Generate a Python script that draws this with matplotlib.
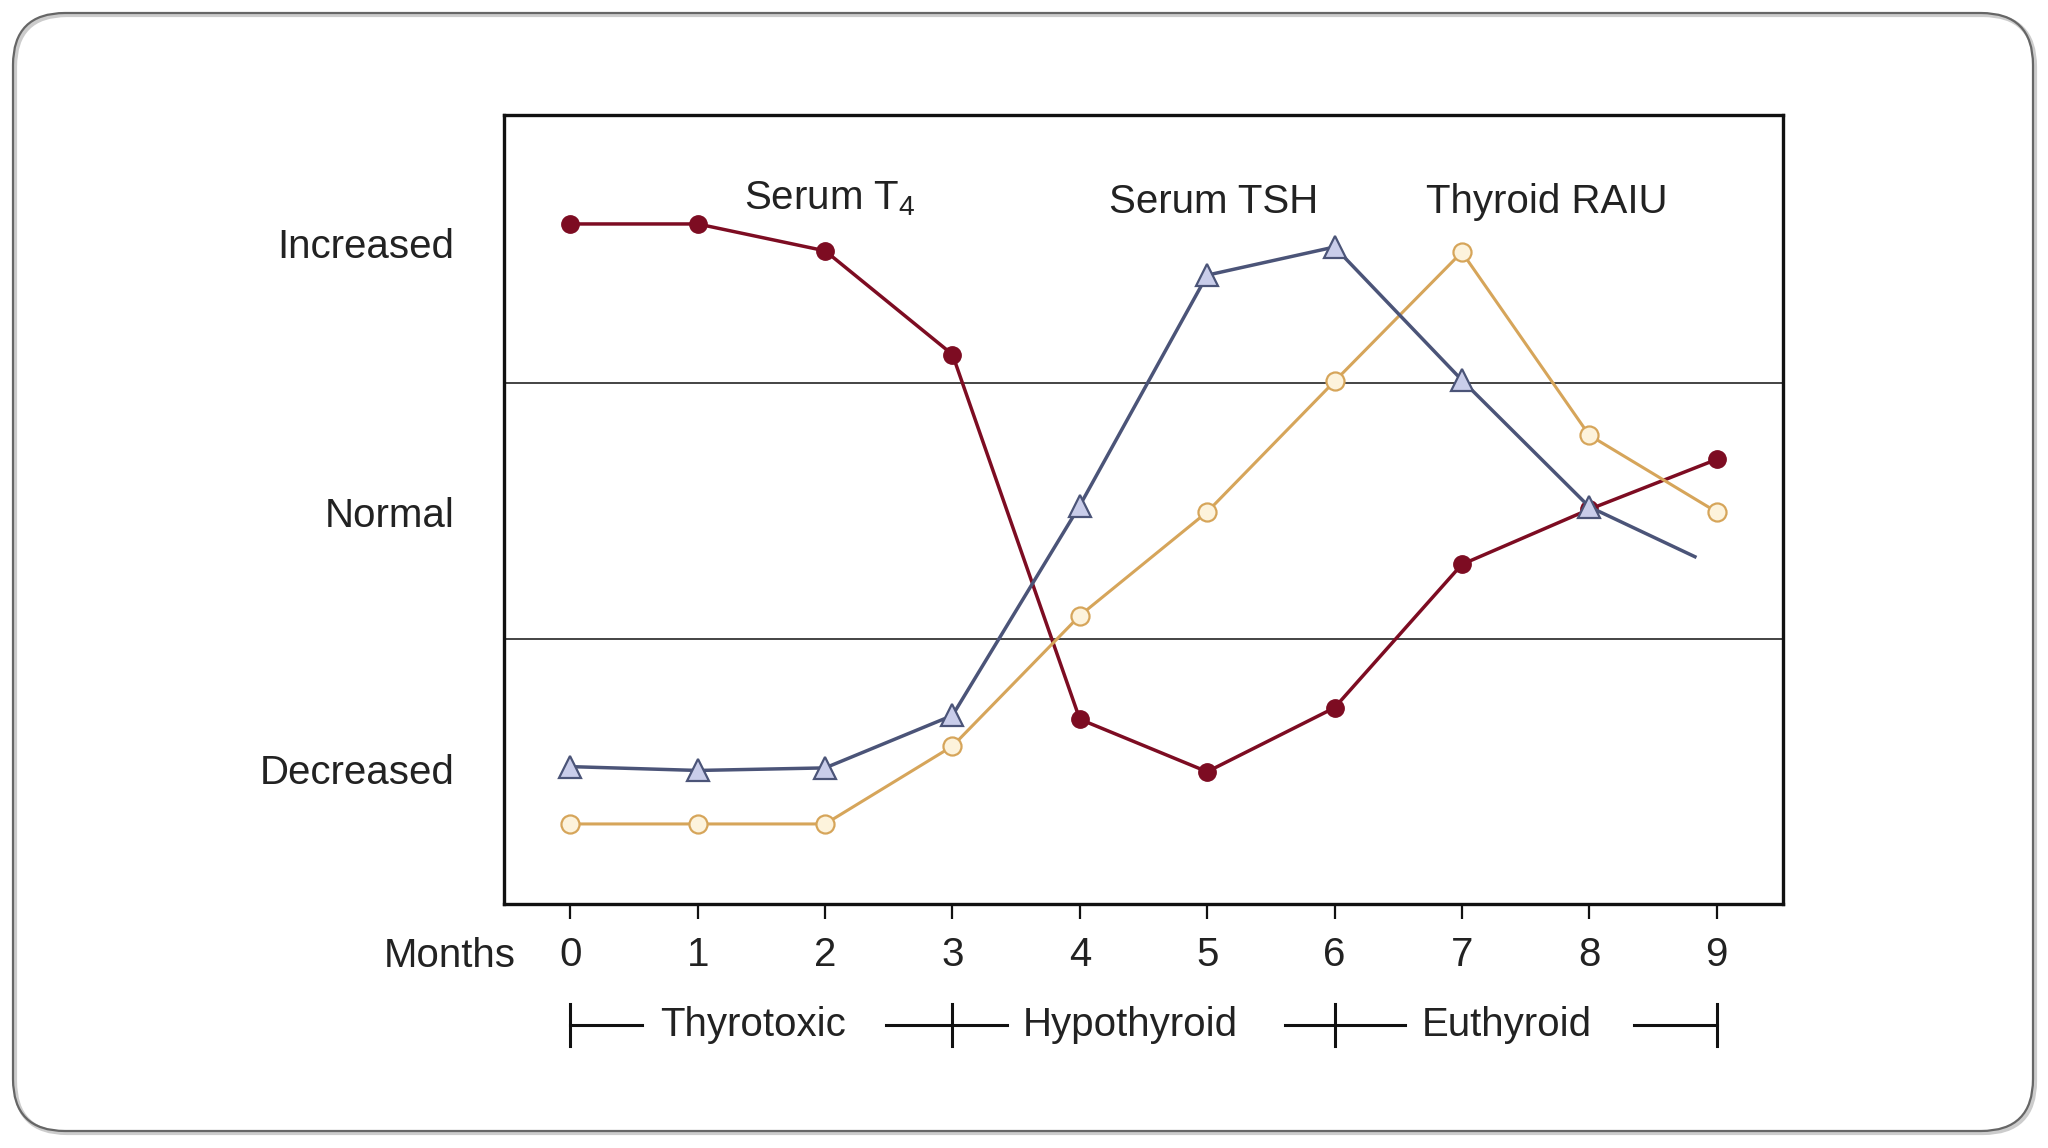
import matplotlib
matplotlib.use("Agg")
from matplotlib import pyplot as plt
from matplotlib.patches import FancyBboxPatch
import matplotlib.transforms as mtransforms

plt.rcParams['font.family'] = ['Liberation Sans', 'DejaVu Sans']
plt.rcParams['mathtext.fontset'] = 'custom'
plt.rcParams['mathtext.rm'] = 'Liberation Sans'

# values (1 = lower normal limit, 2 = upper normal limit)
months = [0, 1, 2, 3, 4, 5, 6, 7, 8, 9]
t4 = [2.62, 2.62, 2.515, 2.11, 0.685, 0.48, 0.73, 1.29, 1.505, 1.70]
tsh_x = [0, 1, 2, 3, 4, 5, 6, 7, 8, 8.83]
tsh = [0.50, 0.485, 0.495, 0.70, 1.52, 2.42, 2.53, 2.01, 1.515, 1.32]
raiu = [0.276, 0.276, 0.276, 0.58, 1.09, 1.495, 2.005, 2.51, 1.795, 1.495]

level_pos = [0.49, 1.495, 2.546]
level_labels = ["Decreased", "Normal", "Increased"]
normal_limits = [1, 2]

phase_bounds = [0, 3, 6, 9]
phase_labels = ["Thyrotoxic", "Hypothyroid", "Euthyroid"]

c_t4 = "#7d0c22"
c_tsh = "#4b5478"
c_tsh_fill = "#c9cdea"
c_raiu = "#d6a55a"
c_raiu_fill = "#fdf3dc"
c_txt = "#222222"
fs = 29

fig = plt.figure(figsize=(20.48, 11.48), dpi=100)

# slide frame with rounded corners (soft shadow first)
shadow = FancyBboxPatch((0.15, 0.15), 20.2, 11.18,
                        boxstyle="round,pad=0,rounding_size=0.52",
                        transform=fig.dpi_scale_trans, facecolor="none",
                        edgecolor="#cccccc", linewidth=3, zorder=-2)
frame = FancyBboxPatch((0.13, 0.17), 20.2, 11.18,
                       boxstyle="round,pad=0,rounding_size=0.52",
                       transform=fig.dpi_scale_trans, facecolor="none",
                       edgecolor="#666666", linewidth=1.6, zorder=-1)
fig.patches.extend([shadow, frame])

ax = fig.add_axes([0.2462, 0.2127, 0.6243, 0.6872])
ax.set_facecolor("white")
ax.set_xlim(-0.52, 9.52)
ax.set_ylim(-0.036, 3.046)

for yl in normal_limits:
    ax.axhline(yl, color="#111111", lw=1.1, zorder=1)

ax.plot(months, t4, color=c_t4, lw=2.5, marker="o", ms=12.5,
        mfc=c_t4, mec=c_t4, zorder=3)
ax.plot(months, raiu, color=c_raiu, lw=2.2, marker="o", ms=13,
        mfc=c_raiu_fill, mec=c_raiu, mew=1.6, zorder=4)
ax.plot(tsh_x, tsh, color=c_tsh, lw=2.5, zorder=5)
ax.plot(tsh_x[:-1], tsh[:-1], ls="none", marker="^", ms=16,
        mfc=c_tsh_fill, mec=c_tsh, mew=1.6, zorder=6)

for s in ax.spines.values():
    s.set_linewidth(2.4)
    s.set_color("#111111")

ax.set_xticks(months)
ax.set_xticklabels([str(m) for m in months])
ax.set_yticks(level_pos)
ax.set_yticklabels(level_labels)
ax.tick_params(axis="y", length=0, pad=36, labelsize=fs, labelcolor=c_txt)
ax.tick_params(axis="x", direction="out", length=11, width=1.6, pad=12,
               labelsize=fs, labelcolor=c_txt, color="#111111")

# curve labels
ax.text(1.366, 2.72, "Serum T$_\\mathrm{4}$", fontsize=fs, color=c_txt,
        ha="left", va="center")
ax.text(5.05, 2.704, "Serum TSH", fontsize=fs, color=c_txt,
        ha="center", va="center")
ax.text(7.67, 2.704, "Thyroid RAIU", fontsize=fs, color=c_txt,
        ha="center", va="center")

trans = mtransforms.blended_transform_factory(ax.transData, ax.transAxes)
ax.text(-0.43, -0.066, "Months", fontsize=fs, color=c_txt, ha="right",
        va="center", transform=trans)

# phase bar below the axis
yb = -0.153
label_x = [1.43, 4.40, 7.35]
seg_left = [0, 2.48, 5.61, 8.35]
seg_right = [0.565, 3.43, 6.55, 9]
for lab, lx in zip(phase_labels, label_x):
    ax.text(lx, yb, lab, fontsize=fs, color=c_txt, ha="center",
            va="center", transform=trans, clip_on=False)
for b, l, r in zip(phase_bounds, seg_left, seg_right):
    ax.plot([l, r], [yb, yb], color="#111111", lw=2.2,
            transform=trans, clip_on=False)
    ax.plot([b, b], [yb + 0.026, yb - 0.027], color="#111111", lw=2.2,
            transform=trans, clip_on=False)

fig.savefig("out.png", dpi=100)
